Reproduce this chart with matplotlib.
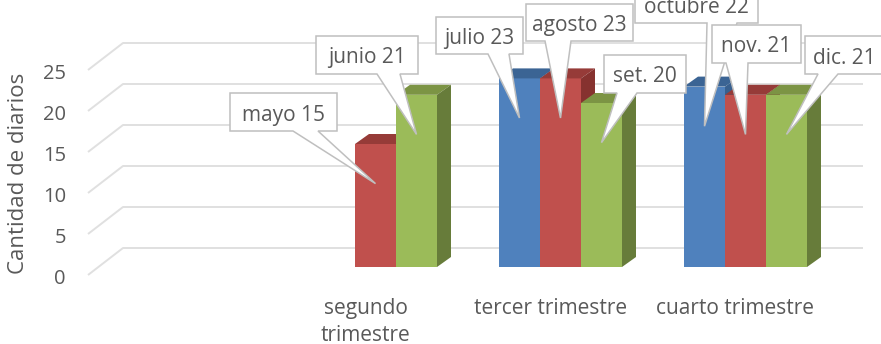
import matplotlib
matplotlib.use('Agg')
import matplotlib.pyplot as plt
from matplotlib.patches import Polygon

categorias = ['', 'segundo\ntrimestre', 'tercer trimestre', 'cuarto trimestre']
meses = [None, ['mayo', 'junio'], ['julio', 'agosto', 'set.'], ['octubre', 'nov.', 'dic.']]
serie_1 = [None, None, 23, 22]
serie_2 = [None, 15, 23, 21]
serie_3 = [None, 21, 20, 21]
ticks_y = [0, 5, 10, 15, 20, 25]

plt.rcParams['font.family'] = ['Open Sans', 'DejaVu Sans']
GRIS = '#595959'
W, H = 881, 344
PX_CAT = 185.0   # pixeles por categoria
PX_VAL = 8.2     # pixeles por unidad
X0, Y0 = 88, 267

fig = plt.figure(figsize=(W / 100, H / 100), dpi=100)
ax = fig.add_axes([0, 0, 1, 1])
ax.set_xlim(-0.5 - X0 / PX_CAT, -0.5 + (W - X0) / PX_CAT)
ax.set_ylim((Y0 - H) / PX_VAL, Y0 / PX_VAL)
ax.axis('off')

def dx(px):
    return px / PX_CAT

def dy(px):
    return px / PX_VAL

def pos(px, py):
    # pixel de la imagen a coordenadas de datos
    return -0.5 + (px - X0) / PX_CAT, (Y0 - py) / PX_VAL

# titulo cortado por arriba: solo asoma el rabo de la g
ax.text(*pos(298, -7), 'g', ha='center', va='baseline', fontsize=22, color=GRIS)

# suelo: frente 8 px bajo la base de las barras, fondo 35 px a la derecha
suelo = -dy(8)
xi, xf = -0.5, 3.5
for v in ticks_y:
    ax.plot([xi, xi + dx(35), xf + dx(35)], [v + suelo, v + suelo + dy(27), v + suelo + dy(27)],
            color='#e0e0e0', lw=1.4, zorder=1, solid_capstyle='butt')
    ax.text(xi - dx(22), v + suelo - dy(4), str(v), ha='right', va='center', fontsize=14.5, color=GRIS)

ax.text(*pos(19, 173), 'Cantidad de diarios', rotation=90, ha='center', va='center',
        fontsize=16, color=GRIS)

for i, c in enumerate(categorias):
    ax.text(i, -dy(31), c, ha='center', va='top', fontsize=15, color=GRIS, linespacing=1.4)

ANCHO = 41 / PX_CAT
DESP = dx(10)
PROF_X, PROF_Y = dx(14), dy(10)
colores = [('#4f81bd', '#3b6494', '#38608f'),
           ('#c0504d', '#963b38', '#86322f'),
           ('#9bbb59', '#7c9444', '#677c3a')]

# cajas de las etiquetas: izq, arriba, der, abajo, cola izq, cola der (pixeles)
cajas = {
    'mayo': (230, 93, 337, 131, 293, 318),
    'junio': (316, 36, 418, 74, 377, 400),
    'julio': (436, 17, 523, 54, 488, 509),
    'agosto': (526, 4, 633, 41, 545, 571),
    'set.': (604, 55, 686, 93, 617, 637),
    'octubre': (635, -14, 758, 23, 707, 737),
    'nov.': (712, 25, 801, 63, 726, 748),
    'dic.': (805, 36, 884, 74, 818, 838),
}

def etiqueta(nombre, valor, x_tip, z):
    izq, arr, der, aba, c1, c2 = cajas[nombre]
    y_tip = valor - dy(39.6)
    puntos = [pos(izq, arr), pos(der, arr), pos(der, aba), pos(c2, aba), (x_tip, y_tip),
              pos(c1, aba), pos(izq, aba)]
    ax.add_patch(Polygon(puntos, closed=True, fc='white', ec='#bfbfbf', lw=1.1, zorder=z,
                         joinstyle='miter'))
    cx, cy = pos((izq + der) / 2, (arr + aba) / 2 + 3)
    ax.text(cx, cy, f'{nombre} {valor}', ha='center', va='center', fontsize=15, color=GRIS,
            zorder=z + 0.1)

series = [serie_1, serie_2, serie_3]
for j, serie in enumerate(series):
    frente, arriba, lado = colores[j]
    for i, v in enumerate(serie):
        if v is None:
            continue
        x = i + DESP + (j - 1.5) * ANCHO
        ax.bar(x, v, ANCHO, align='edge', color=frente, zorder=3 + j)
        ax.add_patch(Polygon([(x, v), (x + PROF_X, v + PROF_Y), (x + ANCHO + PROF_X, v + PROF_Y),
                              (x + ANCHO, v)], fc=arriba, zorder=3 + j))
        ax.add_patch(Polygon([(x + ANCHO, 0), (x + ANCHO + PROF_X, PROF_Y),
                              (x + ANCHO + PROF_X, v + PROF_Y), (x + ANCHO, v)],
                             fc=lado, zorder=3 + j))

z = 10
for j, serie in enumerate(series):
    for i, v in enumerate(serie):
        if v is None:
            continue
        x = i + DESP + (j - 1.5) * ANCHO
        etiqueta(meses[i][j - (3 - len(meses[i]))], v, x + ANCHO / 2, z)
        z += 1

fig.savefig('out.png', dpi=100)
